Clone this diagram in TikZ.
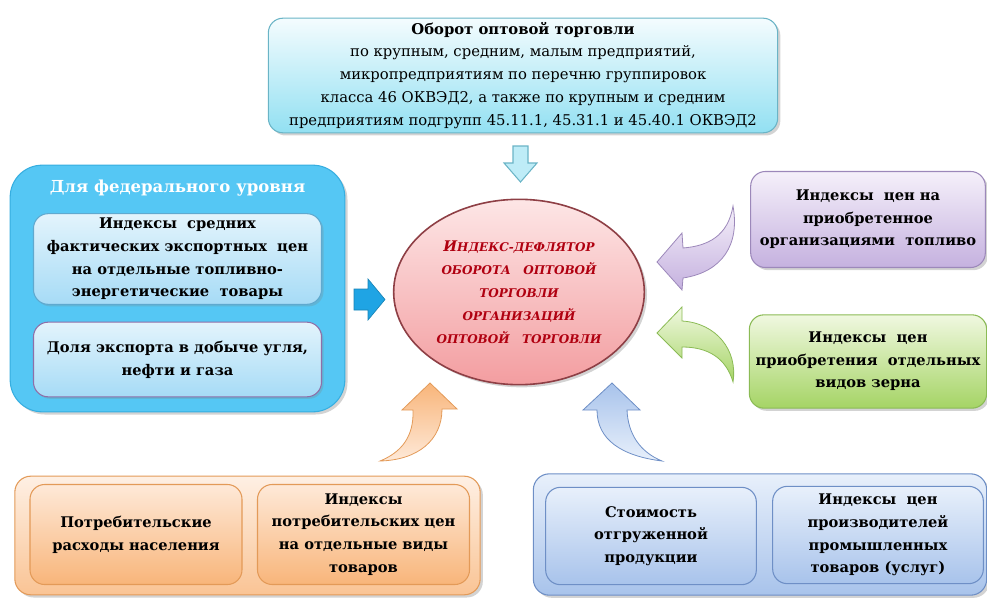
\documentclass[tikz,border=0pt]{standalone}
\usepackage{fontspec}
\setmainfont{DejaVu Serif}
\usetikzlibrary{shadows,shapes.geometric}
\definecolor{cyanT}{HTML}{F4FCFE}
\definecolor{cyanB}{HTML}{92E0F2}
\definecolor{cyanD}{HTML}{6AB4C6}
\definecolor{fedBlue}{HTML}{55C7F4}
\definecolor{fedBlueD}{HTML}{36AEE0}
\definecolor{inT}{HTML}{E3F4FC}
\definecolor{inB}{HTML}{A6DBF6}
\definecolor{inD}{HTML}{5FA9CF}
\definecolor{inP}{HTML}{8E6FA8}
\definecolor{pinkT}{HTML}{FDE6E6}
\definecolor{pinkB}{HTML}{F39DA0}
\definecolor{pinkD}{HTML}{8E3F45}
\definecolor{redTxt}{HTML}{B00010}
\definecolor{purT}{HTML}{F5F0FA}
\definecolor{purB}{HTML}{C5B1DF}
\definecolor{purD}{HTML}{9C88BA}
\definecolor{grnT}{HTML}{F0F8E0}
\definecolor{grnB}{HTML}{A5D465}
\definecolor{grnD}{HTML}{8BBB55}
\definecolor{orT}{HTML}{FEE9D8}
\definecolor{orB}{HTML}{F8B57A}
\definecolor{orD}{HTML}{E39A58}
\definecolor{blT}{HTML}{E8F0FB}
\definecolor{blB}{HTML}{A8C3EB}
\definecolor{blD}{HTML}{6E8FC6}
\definecolor{arrBlue}{HTML}{1FA4E4}
\begin{document}
\begin{tikzpicture}[x=0.75pt,y=-0.75pt,
  shad/.style={drop shadow={opacity=0.35,shadow xshift=2pt,shadow yshift=-2pt}},
  basebox/.style={rounded corners=11pt, draw, line width=0.8pt, align=center, inner sep=2pt,
     font=\bfseries\fontsize{11}{17}\selectfont},
  topbox/.style={basebox, shad, top color=cyanT, bottom color=cyanB, draw=cyanD,
     font=\fontsize{11.1}{17.2}\selectfont, minimum width=382pt, minimum height=86pt},
  fedbox/.style={rounded corners=24pt, draw=fedBlueD, fill=fedBlue, line width=0.8pt, shad,
     minimum width=251pt, minimum height=185pt},
  innerbox/.style={basebox, top color=inT, bottom color=inB, draw=inD,
     drop shadow={opacity=0.25,shadow xshift=1.5pt,shadow yshift=-1.5pt},
     minimum width=216pt},
  purbox/.style={basebox, shad, top color=purT, bottom color=purB, draw=purD,
     minimum width=176pt, minimum height=72pt},
  grnbox/.style={basebox, shad, top color=grnT, bottom color=grnB, draw=grnD,
     minimum width=178pt, minimum height=70pt},
  orouter/.style={rounded corners=12pt, draw=orD, line width=0.8pt, shad,
     top color=orT!70!white, bottom color=orB!80!white, minimum width=349pt, minimum height=89pt},
  orinner/.style={basebox, top color=orT, bottom color=orB, draw=orD,
     minimum width=159pt, minimum height=75pt},
  blouter/.style={rounded corners=12pt, draw=blD, line width=0.8pt, shad,
     top color=blT, bottom color=blB, minimum width=340pt, minimum height=91pt},
  blinner/.style={basebox, top color=blT, bottom color=blB, draw=blD,
     minimum width=158pt, minimum height=73pt},
  curvarr/.style={line width=0.6pt}
]
\useasboundingbox (0,0) rectangle (987,599);

% top box
\node[topbox] (top) at (523,75.5) {\textbf{Оборот оптовой торговли}\\
по крупным, средним, малым предприятий,\\
микропредприятиям по перечню группировок\\
класса 46 ОКВЭД2, а также по крупным и средним\\
предприятиям подгрупп 45.11.1, 45.31.1 и 45.40.1 ОКВЭД2};

% down arrow
\draw[fill=cyanB!60!white, draw=cyanD, line width=0.8pt]
  (513,146) -- (528,146) -- (528,163) -- (537,163) -- (520.5,182) -- (504,163) -- (513,163) -- cycle;

% federal box
\node[fedbox] (fed) at (177.5,288.5) {};
\node[font=\bfseries\fontsize{12.4}{16}\selectfont, text=white] (fedtitle) at (177.5,188) {Для федерального уровня};
\node[innerbox, minimum height=68pt] (exp) at (177.5,259) {Индексы\ \ средних\\ фактических экспортных\ \ цен\\ на отдельные топливно-\\ энергетические\ \ товары};
\node[innerbox, draw=inP, minimum height=56pt] (share) at (177.5,359.5) {Доля экспорта в добыче угля,\\ нефти и газа};

% right arrow
\draw[fill=arrBlue, draw=arrBlue!80!black, line width=0.5pt]
  (354,289) -- (368,289) -- (368,279) -- (385,299.5) -- (368,320) -- (368,310) -- (354,310) -- cycle;

% ellipse
\node[ellipse, draw=pinkD, line width=1.2pt, top color=pinkT, bottom color=pinkB, shad,
      minimum width=188pt, minimum height=139pt, align=center, text=redTxt,
      font=\bfseries\itshape\fontsize{9}{17.2}\selectfont] (defl) at (519,292)
  {{\fontsize{11}{17}\selectfont И}НДЕКС-ДЕФЛЯТОР\\ ОБОРОТА\ \ \ ОПТОВОЙ\\ ТОРГОВЛИ\\ ОРГАНИЗАЦИЙ\\ ОПТОВОЙ\ \ \ ТОРГОВЛИ};

% right boxes
\node[purbox] (fuel) at (868,219.5) {Индексы\ \ цен на\\ приобретенное\\ организациями\ \ топливо};
\node[grnbox] (grain) at (868,361.5) {Индексы\ \ цен\\ приобретения\ \ отдельных\\ видов зерна};

% curved arrows
\draw[curvarr, draw=purD, top color=purT, bottom color=purB]
  (733,206) .. controls (728,236) and (708,246) .. (683,248) -- (682,233) -- (657,262)
  -- (682,290) -- (683,278) .. controls (722,272) and (740,245) .. (733,206) -- cycle;
\draw[curvarr, draw=grnD, top color=grnT, bottom color=grnB]
  (733,382) .. controls (738,350) and (716,323) .. (682,321) -- (682,307) -- (657,333)
  -- (682,358) -- (682,347) .. controls (708,347) and (726,358) .. (733,382) -- cycle;
\draw[curvarr, draw=orD, top color=orB, bottom color=orT]
  (380,461) .. controls (402,452) and (414,436) .. (413,410) -- (402,410) -- (430,383)
  -- (457,409) -- (442,409) .. controls (442,440) and (418,460) .. (380,461) -- cycle;
\draw[curvarr, draw=blD, top color=blB, bottom color=blT]
  (662,461) .. controls (622,456) and (597,440) .. (597,410) -- (583,410) -- (612,383)
  -- (640,410) -- (627,410) .. controls (628,434) and (640,452) .. (662,461) -- cycle;

% bottom orange
\node[orouter] (orout) at (247.5,535.5) {};
\node[orinner] (cons) at (136,534.5) {Потребительские\\ расходы населения};
\node[orinner] (cpi) at (363.5,534.5) {Индексы\\ потребительских цен\\ на отдельные виды\\ товаров};

% bottom blue
\node[blouter] (blout) at (760,534.5) {};
\node[blinner] (ship) at (651,536) {Стоимость\\ отгруженной\\ продукции};
\node[blinner] (ppi) at (878,535) {Индексы\ \ цен\\ производителей\\ промышленных\\ товаров (услуг)};
\end{tikzpicture}
\end{document}
